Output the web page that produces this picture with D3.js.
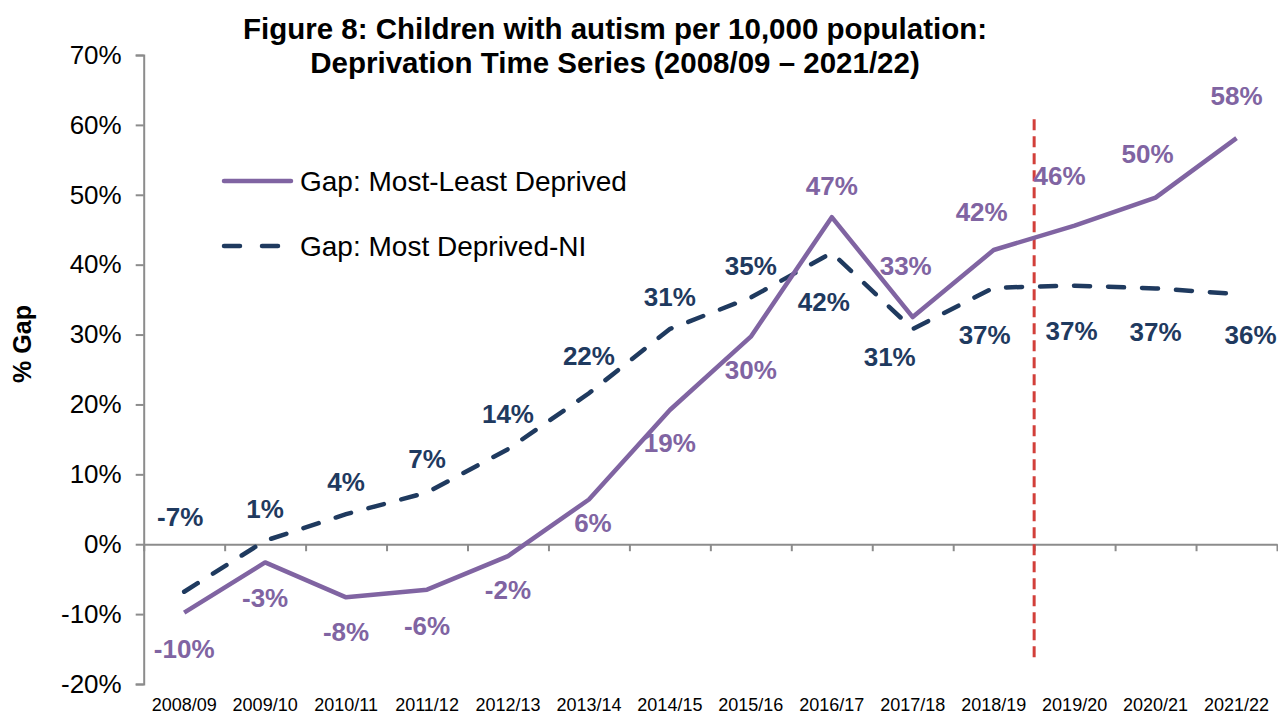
<!DOCTYPE html>
<html>
<head>
<meta charset="utf-8">
<script src="https://cdn.jsdelivr.net/npm/d3@7"></script>
<style>
  html, body { margin: 0; padding: 0; background: #ffffff; }
  svg { display: block; font-family: Arial, "Liberation Sans", sans-serif; }
</style>
</head>
<body>
<svg id="chart" width="1278" height="714"></svg>
<script>
// Financial years on the category axis
const years = ["2008/09","2009/10","2010/11","2011/12","2012/13","2013/14","2014/15",
               "2015/16","2016/17","2017/18","2018/19","2019/20","2020/21","2021/22"];

// Gap between most and least deprived areas (%)
const gapMostLeast = [-9.8, -2.6, -7.6, -6.5, -1.7, 6.4, 19.2, 29.7, 46.8, 32.5, 42.1, 45.6, 49.6, 58.1];

// Gap between most deprived areas and NI average (%)
const gapMostNI = [-6.8, 0.5, 4.3, 7.4, 13.6, 21.6, 30.8, 35.3, 41.7, 30.8, 36.7, 37.0, 36.6, 35.8];

// Rounded value labels
const labelsMostLeast = ["-10%","-3%","-8%","-6%","-2%","6%","19%","30%","47%","33%","42%","46%","50%","58%"];
const labelsMostNI = ["-7%","1%","4%","7%","14%","22%","31%","35%","42%","31%","37%","37%","37%","36%"];

// Y axis ticks
const yTicks = [-20, -10, 0, 10, 20, 30, 40, 50, 60, 70];

// Break marker sits between these two years
const breakAfter = "2018/19";

// Label placement offsets relative to each point [dx, dy]
const offMostLeast = [[0,36],[0,36],[0,35],[0,36],[0,34],[4,23],[0,33],[0,33],[0,-31],[-7,-51],[-12,-38],[-15,-50],[-8,-44],[0,-42]];
const offMostNI = [[-4,-75],[0,-32],[0,-32],[0,-34],[0,-35],[0,-37],[0,-32],[0,-32],[-8,49],[-23,28],[-9,47],[-3,45],[0,43],[14,41]];

const colPurple = "#8064a2";
const colNavy = "#1f3a5f";
const colRed = "#d23f3a";
const colAxis = "#8c8c8c";

const svg = d3.select("#chart");

const x = d3.scaleBand().domain(years).range([143.7, 1277]);
const xEdge = d3.scaleLinear().domain([0, years.length]).range([143.7, 1277]);
const y = d3.scaleLinear().domain([-20, 70]).range([684, 55]);

// Title
const title = svg.append("text")
  .attr("text-anchor", "middle")
  .attr("font-weight", "bold")
  .attr("font-size", 29.5)
  .attr("fill", "#000");
title.append("tspan").attr("x", 615).attr("y", 39).text("Figure 8: Children with autism per 10,000 population:");
title.append("tspan").attr("x", 615).attr("y", 73).text("Deprivation Time Series (2008/09 \u2013 2021/22)");

// Y axis
const yAxis = svg.append("g")
  .attr("transform", "translate(143.7,0)")
  .call(d3.axisLeft(y).tickValues(yTicks).tickSize(8).tickPadding(14).tickFormat(d => d + "%"));
yAxis.select(".domain").attr("stroke", colAxis).attr("stroke-width", 2);
yAxis.selectAll(".tick line").attr("stroke", colAxis).attr("stroke-width", 2);
yAxis.selectAll(".tick text")
  .attr("font-size", 26)
  .attr("font-family", "Arial, 'Liberation Sans', sans-serif")
  .attr("fill", "#000");

// Y axis title
svg.append("text")
  .attr("transform", "translate(31,344) rotate(-90)")
  .attr("text-anchor", "middle")
  .attr("font-weight", "bold")
  .attr("font-size", 25)
  .attr("fill", "#000")
  .text("% Gap");

// X axis line at zero with ticks on category boundaries
const xAxis = svg.append("g")
  .attr("transform", `translate(0,${y(0)})`)
  .call(d3.axisBottom(xEdge).tickValues(d3.range(0, years.length + 1)).tickSize(7).tickSizeOuter(0).tickFormat(""));
xAxis.select(".domain").attr("stroke", colAxis).attr("stroke-width", 2);
xAxis.selectAll(".tick line").attr("stroke", colAxis).attr("stroke-width", 2);

// Category labels along the bottom
const xLabels = svg.append("g")
  .attr("transform", "translate(0,684)")
  .call(d3.axisBottom(x).tickSize(0).tickPadding(14));
xLabels.select(".domain").remove();
xLabels.selectAll(".tick text")
  .attr("font-size", 18)
  .attr("font-family", "Arial, 'Liberation Sans', sans-serif")
  .attr("fill", "#000");

// Break marker
const bx = x(breakAfter) + x.bandwidth();
svg.append("line")
  .attr("x1", bx).attr("x2", bx)
  .attr("y1", y(60.8)).attr("y2", y(-16.2))
  .attr("stroke", colRed)
  .attr("stroke-width", 3)
  .attr("stroke-dasharray", "11,6");

const cx = (d, i) => x(years[i]) + x.bandwidth() / 2;
const line = d3.line().x(cx).y(d => y(d));

// Most deprived vs NI (dashed)
svg.append("path")
  .datum(gapMostNI)
  .attr("d", line)
  .attr("fill", "none")
  .attr("stroke", colNavy)
  .attr("stroke-width", 4.5)
  .attr("stroke-linecap", "round")
  .attr("stroke-dasharray", "16,18");

// Most vs least deprived (solid)
svg.append("path")
  .datum(gapMostLeast)
  .attr("d", line)
  .attr("fill", "none")
  .attr("stroke", colPurple)
  .attr("stroke-width", 4.5)
  .attr("stroke-linejoin", "round");

// Value labels
function addLabels(values, labels, offs, color) {
  svg.append("g")
    .selectAll("text")
    .data(values)
    .join("text")
    .attr("x", (d, i) => cx(d, i) + offs[i][0])
    .attr("y", (d, i) => y(d) + offs[i][1])
    .attr("dy", "0.35em")
    .attr("text-anchor", "middle")
    .attr("font-weight", "bold")
    .attr("font-size", 26)
    .attr("fill", color)
    .text((d, i) => labels[i]);
}
addLabels(gapMostLeast, labelsMostLeast, offMostLeast, colPurple);
addLabels(gapMostNI, labelsMostNI, offMostNI, colNavy);

// Legend
const legend = svg.append("g");
legend.append("line")
  .attr("x1", 224).attr("x2", 291).attr("y1", 181).attr("y2", 181)
  .attr("stroke", colPurple).attr("stroke-width", 4.5)
  .attr("stroke-linecap", "round");
legend.append("text")
  .attr("x", 300).attr("y", 181).attr("dy", "0.35em")
  .attr("font-size", 28).attr("fill", "#000")
  .text("Gap: Most-Least Deprived");
legend.append("line")
  .attr("x1", 224).attr("x2", 280).attr("y1", 246).attr("y2", 246)
  .attr("stroke", colNavy).attr("stroke-width", 4.5)
  .attr("stroke-linecap", "round")
  .attr("stroke-dasharray", "16,22");
legend.append("text")
  .attr("x", 300).attr("y", 246).attr("dy", "0.35em")
  .attr("font-size", 28).attr("fill", "#000")
  .text("Gap: Most Deprived-NI");
</script>
</body>
</html>
